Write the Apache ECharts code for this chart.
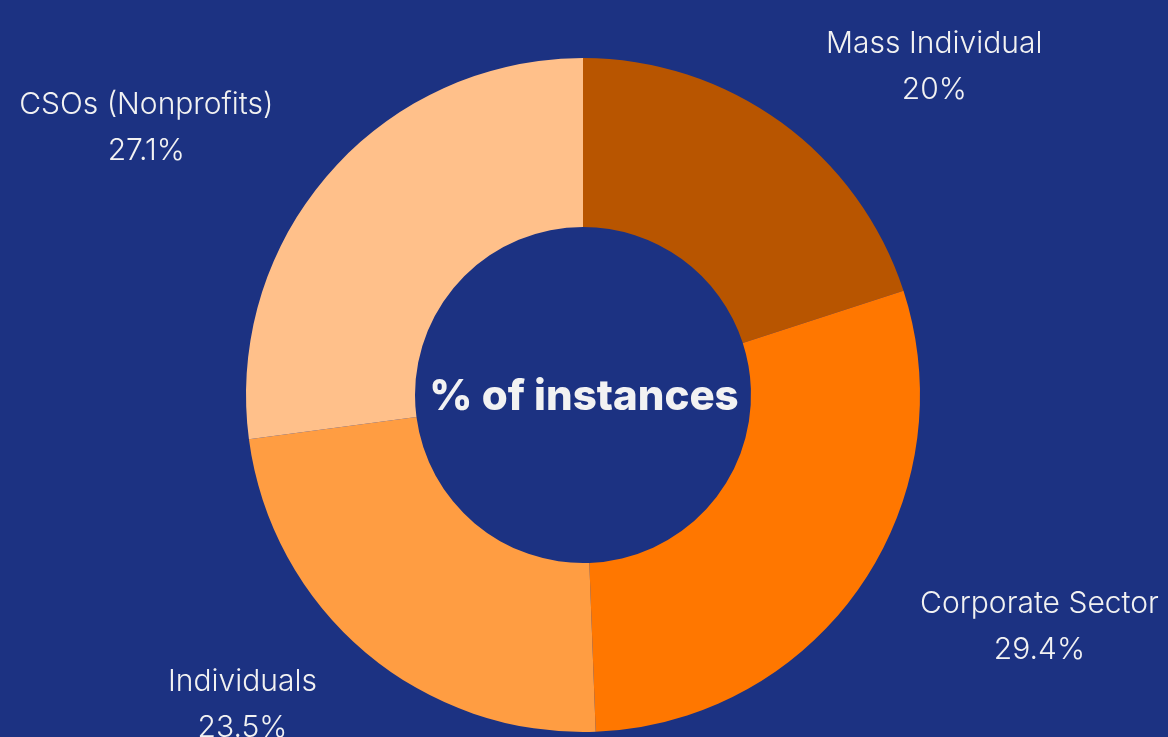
<!DOCTYPE html>
<html>
<head>
<meta charset="utf-8">
<style>
  html, body { margin: 0; padding: 0; background: #1c3282; }
  #chart { width: 1168px; height: 737px; }
</style>
<script src="https://cdn.jsdelivr.net/npm/echarts@6/dist/echarts.min.js"></script>
</head>
<body>
<div id="chart"></div>
<script>
const categories = ['Mass Individual', 'Corporate Sector', 'Individuals', 'CSOs (Nonprofits)']
const shares = [20, 29.4, 23.5, 27.1]
const colors = ['#b85500', '#ff7700', '#ff9d42', '#ffc08a']
const centerText = '% of instances'

const chart = echarts.init(document.getElementById('chart'))

const option = {
  backgroundColor: '#1c3282',
  graphic: [
    {
      type: 'text',
      left: 'center',
      top: 376,
      style: {
        text: centerText,
        fill: '#f2f2f2',
        font: '800 42px Inter',
      },
    },
  ],
  series: [
    {
      type: 'pie',
      center: [583, 395],
      radius: [168, 337],
      startAngle: 90,
      clockwise: true,
      avoidLabelOverlap: false,
      silent: true,
      data: categories.map((name, i) => ({
        name,
        value: shares[i],
        itemStyle: { color: colors[i] },
      })),
      label: {
        show: true,
        position: 'outside',
        formatter: (p) => `{a|${p.name}}\n{a|${p.value}%}`,
        rich: {
          a: {
            color: '#f2f2f2',
            fontFamily: 'Inter',
            fontWeight: 300,
            fontSize: 30,
            lineHeight: 46,
            align: 'center',
          },
        },
      },
      labelLine: { show: false, length: 68, length2: 0 },
    },
  ],
}

chart.setOption(option)
</script>
</body>
</html>
